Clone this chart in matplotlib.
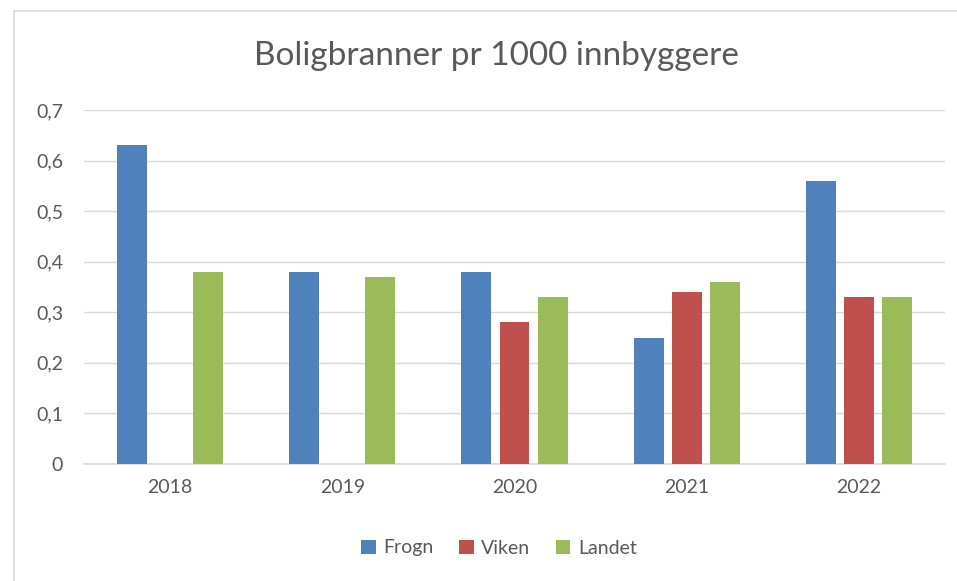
import matplotlib
matplotlib.use("Agg")
import matplotlib.pyplot as plt
from matplotlib.patches import Rectangle
import numpy as np

years = ["2018", "2019", "2020", "2021", "2022"]
frogn = [0.63, 0.38, 0.38, 0.25, 0.56]
viken = [0.0, 0.0, 0.28, 0.34, 0.33]
landet = [0.38, 0.37, 0.33, 0.36, 0.33]
series_names = ["Frogn", "Viken", "Landet"]
colors = ["#4F81BD", "#C0504D", "#9BBB59"]
yticks = [0, 0.1, 0.2, 0.3, 0.4, 0.5, 0.6, 0.7]
ytick_labels = ["0", "0,1", "0,2", "0,3", "0,4", "0,5", "0,6", "0,7"]

plt.rcParams["font.family"] = ["Lato", "DejaVu Sans"]
text_color = "#595959"

W, H = 957, 581
fig = plt.figure(figsize=(W / 100, H / 100), dpi=100)
fig.patch.set_facecolor("white")

# chart frame
fig.patches.append(Rectangle((14 / W, -0.1), 1.2, 1.1 - 11 / H,
                             transform=fig.transFigure, fill=False,
                             edgecolor="#D9D9D9", linewidth=1.2))

ax = fig.add_axes([84 / W, (H - 464) / H, (945 - 84) / W, (464 - 110) / H])
x = np.arange(len(years))
bw = 0.174
step = 0.221
handles = []
for i, (vals, c) in enumerate(zip([frogn, viken, landet], colors)):
    h = ax.bar(x + (i - 1) * step, vals, width=bw, color=c, zorder=3,
               label=series_names[i])
    handles.append(h)

ax.set_xlim(-0.5, len(years) - 0.5)
ax.set_ylim(0, 0.7)
ax.set_yticks(yticks)
ax.set_yticklabels(ytick_labels)
ax.set_xticks(x)
ax.set_xticklabels(years)
ax.grid(axis="y", color="#D9D9D9", linewidth=1.0, zorder=0)
for s in ["top", "right", "left"]:
    ax.spines[s].set_visible(False)
ax.spines["bottom"].set_color("#D9D9D9")
ax.spines["bottom"].set_linewidth(1.2)
ax.tick_params(axis="both", length=0, labelsize=14, colors=text_color)
ax.tick_params(axis="y", pad=15)
ax.tick_params(axis="x", pad=11)

fig.text(496 / W, 1 - 56 / H, "Boligbranner pr 1000 innbyggere",
         ha="center", va="center", fontsize=24, color=text_color)

fig.legend(handles=handles, loc="center", bbox_to_anchor=(499 / W, 1 - 548 / H),
           ncol=3, frameon=False, fontsize=14, labelcolor=text_color,
           handlelength=0.75, handleheight=0.75, handletextpad=0.4,
           columnspacing=1.3)

fig.savefig("out.png", dpi=100, facecolor="white")
